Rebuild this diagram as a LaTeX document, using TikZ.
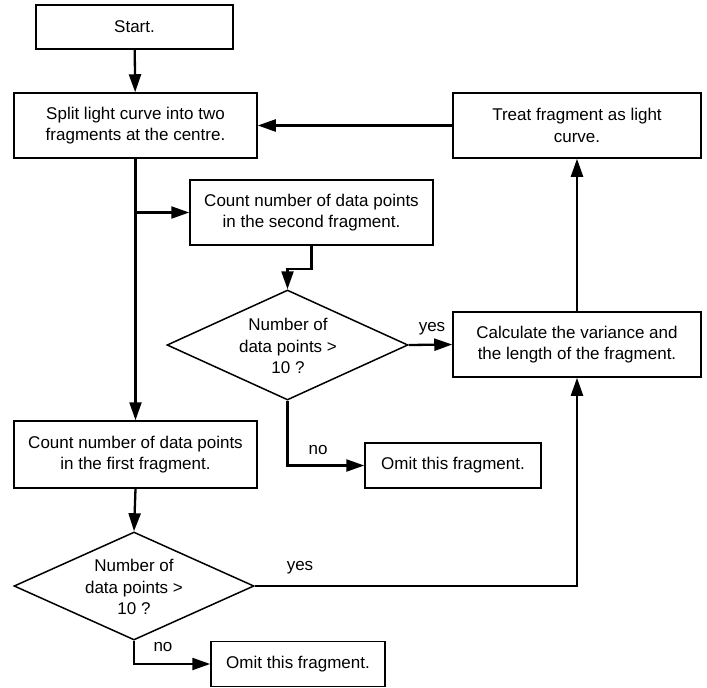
\documentclass[tikz,border=0pt]{standalone}
\usepackage{fontspec}
\setmainfont{Liberation Sans}
\usetikzlibrary{shapes.geometric,arrows.meta}
\begin{document}
\begin{tikzpicture}[x=1pt,y=-1pt,
  every node/.style={font=\fontsize{17}{21.5}\selectfont},
  box/.style={draw,line width=1.5pt,inner sep=0pt,align=center},
  dia/.style={draw,diamond,line width=1.5pt,inner sep=0pt},
  conn/.style={line width=2.3pt,-{Triangle[length=18pt,width=12pt]}},
  lbl/.style={inner sep=0pt}]
\useasboundingbox (0,0) rectangle (707,688);
\node[box,minimum width=197pt,minimum height=44pt] (start) at (134.5,27) {Start.};
\node[box,minimum width=243pt,minimum height=65pt] (split) at (135.5,125.5) {Split light curve into two\\fragments at the centre.};
\node[box,minimum width=248pt,minimum height=65pt] (treat) at (577,125.5) {Treat fragment as light\\curve.};
\node[box,minimum width=243pt,minimum height=65pt] (count2) at (311.5,212.5) {Count number of data points\\in the second fragment.};
\node[dia,minimum width=241pt,minimum height=110pt] (dia1) at (287.5,345) {};
\node[align=center,inner sep=0pt] (dia1t) at (288,346) {Number of\\data points >\\10 ?};
\node[box,minimum width=248pt,minimum height=65pt] (calc) at (577,344.5) {Calculate the variance and\\the length of the fragment.};
\node[box,minimum width=176pt,minimum height=45pt] (omit1) at (453,465.5) {Omit this fragment.};
\node[box,minimum width=243pt,minimum height=67pt] (count1) at (135.5,454.5) {Count number of data points\\in the first fragment.};
\node[dia,minimum width=240pt,minimum height=108pt] (dia2) at (134,586) {};
\node[align=center,inner sep=0pt] (dia2t) at (134,587) {Number of\\data points >\\10 ?};
\node[box,minimum width=174pt,minimum height=45pt] (omit2) at (298,664) {Omit this fragment.};
% labels
\node[lbl] (yes1) at (432,329) {yes};
\node[lbl] (no1) at (318,450) {no};
\node[lbl] (yes2) at (300,568) {yes};
\node[lbl] (no2) at (163,647) {no};
% connectors
\coordinate (br) at (split.south |- count2.west);
\coordinate (kink) at ([yshift=-23pt]count2.south);
\draw[conn] (start) -- (split);
\draw[conn] (split.south) -- (count1.north);
\draw[conn] (br) -- (count2.west);
\draw[conn] (count2.south) -- (kink) -| (dia1.north);
\draw[conn] (dia1.east) -- (calc.west);
\draw[conn] (dia1.south) |- (omit1.west);
\draw[conn] (calc.north) -- (treat.south);
\draw[conn] (treat.west) -- (split.east);
\draw[conn] (count1.south) -- (dia2.north);
\draw[conn] (dia2.east) -| (calc.south);
\draw[conn] (dia2.south) |- (omit2.west);
\end{tikzpicture}
\end{document}
